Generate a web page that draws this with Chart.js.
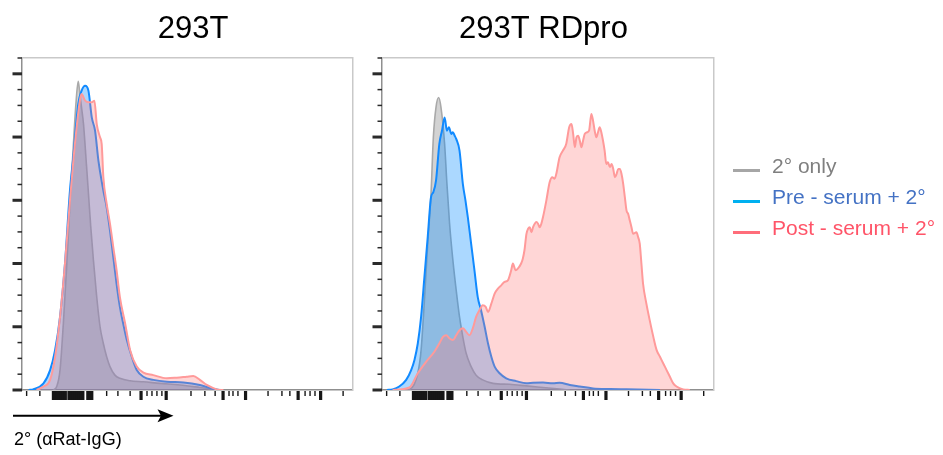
<!DOCTYPE html>
<html>
<head>
<meta charset="utf-8">
<title>Serum binding histograms</title>
<script src="https://cdn.jsdelivr.net/npm/chart.js@4.4.1/dist/chart.umd.min.js"></script>
<style>
  html, body { margin: 0; padding: 0; background: #ffffff; }
  #wrap { position: relative; width: 943px; height: 455px; overflow: hidden;
          font-family: "Liberation Sans", Arial, Helvetica, sans-serif; }
  .panel { position: absolute; top: 0; height: 455px; }
  .panel canvas { display: block; }
  #legend { position: absolute; left: 733px; top: 0; width: 210px; height: 455px; }
  .swatch { position: absolute; left: 0; width: 27px; height: 3px; }
  .label { position: absolute; left: 39px; font-size: 21px; line-height: 21px; white-space: nowrap; }
</style>
</head>
<body>
<div id="wrap">
  <div class="panel" style="left:0;width:386px"><canvas id="c1" width="386" height="455"></canvas></div>
  <div class="panel" style="left:360px;width:367px"><canvas id="c2" width="367" height="455"></canvas></div>
  <div id="legend"></div>
</div>
<script>
// ---------------- data ----------------
const panelTitles = ['293T', '293T RDpro'];
const seriesNames = ['2° only', 'Pre - serum + 2°', 'Post - serum + 2°'];
const axisLabel = '2° (αRat-IgG)';

// fluorescence channel (display scale 0-1000) and % of max
// 293T
const t293OnlyX = [95, 105, 115, 125, 135, 145, 155, 163, 170, 175, 180, 186, 194, 201, 208, 216, 226, 236, 246, 256, 266, 281, 296, 327, 367, 417, 478, 538, 579, 599];
const t293OnlyY = [0, 1.1, 6.3, 21.0, 38.9, 58.9, 76.8, 90.4, 97.6, 93.6, 89.4, 84.1, 72.6, 62.1, 51.5, 41.0, 29.4, 20.0, 14.7, 10.5, 7.4, 4.7, 3.7, 2.9, 2.6, 2.1, 1.6, 0.8, 0.2, 0];
const t293PreX = [20, 34, 65, 85, 100, 115, 130, 145, 155, 170, 180, 191, 201, 211, 221, 231, 246, 256, 266, 276, 286, 296, 306, 317, 332, 347, 367, 397, 438, 488, 538, 579, 599];
const t293PreY = [0, 0.2, 2.1, 6.3, 12.6, 23.1, 40.0, 63.1, 73.6, 90.4, 94.6, 96.2, 94.6, 86.2, 82.0, 72.6, 63.1, 57.8, 50.5, 42.1, 33.6, 26.3, 21.0, 15.8, 10.5, 6.3, 4.2, 3.2, 2.6, 2.4, 1.6, 0.3, 0];
const t293PostX = [44, 65, 85, 100, 115, 130, 145, 160, 175, 180, 191, 201, 211, 219, 226, 236, 241, 246, 256, 266, 276, 286, 296, 312, 327, 347, 367, 397, 438, 468, 498, 518, 538, 559, 589, 609];
const t293PostY = [0, 1.1, 3.2, 10.5, 23.1, 40.0, 59.9, 77.8, 91.5, 93.6, 91.5, 91.0, 91.0, 91.5, 84.1, 79.9, 77.8, 67.3, 58.9, 52.6, 45.2, 37.9, 29.4, 21.0, 12.6, 7.4, 5.5, 4.7, 3.7, 3.9, 4.2, 4.4, 3.2, 1.6, 0.2, 0];

// 293T RDpro
const rdOnlyX = [60, 83, 108, 118, 128, 138, 148, 155, 163, 171, 178, 189, 196, 204, 214, 224, 234, 244, 254, 269, 284, 304, 335, 385, 436, 486, 536, 567];
const rdOnlyY = [0, 0.2, 5.3, 12.6, 28.4, 46.3, 62.1, 79.9, 89.4, 92.5, 89.4, 77.8, 65.2, 52.6, 41.0, 31.5, 23.1, 16.8, 11.6, 7.4, 4.7, 3.2, 2.1, 1.8, 1.3, 0.8, 0.3, 0];
const rdPreX = [15, 32, 52, 73, 88, 98, 108, 118, 128, 138, 148, 155, 163, 173, 181, 189, 196, 202, 209, 214, 219, 224, 234, 244, 252, 259, 269, 279, 289, 299, 310, 320, 330, 340, 355, 375, 405, 436, 456, 486, 516, 536, 567, 597, 637, 688, 738, 839];
const rdPreY = [0, 0.2, 1.1, 3.2, 6.3, 9.5, 14.7, 23.1, 35.7, 48.4, 61.0, 62.6, 66.2, 77.8, 82.0, 86.2, 82.0, 83.1, 81.0, 81.5, 80.5, 79.4, 75.7, 65.2, 59.9, 54.7, 46.3, 37.9, 29.4, 25.2, 19.9, 14.7, 10.5, 7.4, 5.3, 3.7, 2.8, 2.1, 2.3, 2.4, 2.1, 2.3, 1.6, 1.1, 0.5, 0.3, 0.2, 0];
const rdPostX = [32, 83, 108, 133, 158, 173, 184, 194, 204, 214, 224, 234, 244, 254, 264, 274, 284, 294, 304, 313, 320, 330, 340, 350, 360, 370, 380, 390, 395, 403, 410, 420, 425, 430, 436, 441, 446, 451, 456, 461, 466, 471, 476, 481, 486, 496, 506, 514, 521, 526, 536, 546, 556, 565, 572, 577, 582, 587, 592, 597, 602, 607, 612, 619, 625, 632, 637, 642, 647, 652, 657, 662, 667, 672, 677, 682, 688, 693, 698, 703, 708, 713, 718, 723, 728, 733, 738, 743, 748, 753, 758, 768, 773, 778, 783, 788, 798, 808, 819, 829, 839, 849, 859, 869, 879, 889, 909, 929];
const rdPostY = [0, 0.8, 5.3, 8.9, 12.1, 14.7, 16.8, 17.3, 16.3, 15.8, 17.3, 18.9, 19.5, 18.4, 17.3, 19.5, 23.1, 25.2, 26.8, 26.3, 24.7, 27.3, 30.5, 32.1, 33.1, 34.2, 34.7, 37.9, 40.0, 37.9, 38.4, 40.0, 41.5, 44.2, 49.4, 51.0, 51.5, 49.9, 51.5, 52.6, 53.1, 52.6, 51.5, 52.6, 54.7, 59.9, 65.7, 67.3, 66.8, 68.3, 73.6, 75.7, 77.8, 83.1, 84.1, 81.0, 76.8, 79.9, 80.4, 78.9, 76.8, 78.9, 81.0, 81.5, 82.0, 87.3, 85.2, 82.0, 79.9, 81.5, 83.1, 81.5, 78.9, 75.7, 71.5, 72.0, 70.5, 71.5, 69.9, 67.3, 68.3, 69.9, 69.9, 68.3, 65.2, 61.0, 56.8, 55.7, 53.6, 51.5, 49.4, 49.9, 48.4, 46.3, 40.0, 33.6, 27.3, 22.1, 16.8, 12.6, 10.5, 8.4, 6.3, 4.2, 2.1, 1.1, 0.2, 0];

// axis tick values (display scale)
const xMinorTicks = [14, 54, 256, 290, 327, 378, 393, 408, 423, 511, 553, 584, 626, 638, 653, 744, 786, 810, 856, 871, 886, 971];
const xMajorTicks = [95, 101, 107, 113, 119, 125, 131, 142, 148, 154, 160, 166, 172, 178, 184, 199, 205, 211, 360, 436, 608, 676, 835, 903];
const xMax = 1000;
const yMax = 105;
const yTickStep = 5;
const yMajorStep = 20;

// ---------------- styles ----------------
const FONT = '"Liberation Sans", Arial, Helvetica, sans-serif';
const seriesStyle = [
  { line: '#a9a9a9', fill: 'rgba(128,128,128,0.35)', width: 1.6, order: 2, key: '#a6a6a6', text: '#7f7f7f' },
  { line: '#118aff', fill: 'rgba(0,136,255,0.33)',   width: 2.0, order: 1, key: '#00b0f0', text: '#4472c4' },
  { line: '#ff9a9a', fill: 'rgba(255,120,120,0.30)', width: 2.0, order: 0, key: '#ff6d7a', text: '#ff5468' }
];

function toPoints(xs, ys) {
  return xs.map((x, i) => ({ x: x, y: ys[i] }));
}

// tick marks, arrow and axis caption
const flowAxes = {
  id: 'flowAxes',
  afterDraw(chart, args, opts) {
    const { ctx, chartArea } = chart;
    const xs = chart.scales.x, ys = chart.scales.y;
    ctx.save();
    ctx.strokeStyle = '#161616';
    ctx.lineCap = 'butt';
    const b = chartArea.bottom;
    ctx.lineWidth = 1.4;
    xMinorTicks.forEach(v => {
      const px = xs.getPixelForValue(v);
      ctx.beginPath(); ctx.moveTo(px, b + 1); ctx.lineTo(px, b + 6); ctx.stroke();
    });
    ctx.lineWidth = 3.2;
    xMajorTicks.forEach(v => {
      const px = xs.getPixelForValue(v);
      ctx.beginPath(); ctx.moveTo(px, b + 1); ctx.lineTo(px, b + 10); ctx.stroke();
    });
    ctx.strokeStyle = '#2a2a2a';
    const l = chartArea.left;
    for (let v = 0; v <= yMax; v += yTickStep) {
      const py = ys.getPixelForValue(v);
      const major = v % yMajorStep === 0;
      ctx.lineWidth = major ? 3 : 1.5;
      ctx.beginPath(); ctx.moveTo(l - (major ? 9.5 : 4.5), py); ctx.lineTo(l, py); ctx.stroke();
    }
    if (opts.caption) {
      const ay = 415.7;
      ctx.strokeStyle = '#000';
      ctx.fillStyle = '#000';
      ctx.lineWidth = 2;
      ctx.beginPath(); ctx.moveTo(13, ay); ctx.lineTo(162, ay); ctx.stroke();
      ctx.beginPath();
      ctx.moveTo(173.5, ay);
      ctx.lineTo(157.5, ay - 6.5);
      ctx.lineTo(161, ay);
      ctx.lineTo(157.5, ay + 6.5);
      ctx.closePath();
      ctx.fill();
      ctx.font = '18px ' + FONT;
      ctx.textBaseline = 'alphabetic';
      ctx.textAlign = 'left';
      ctx.fillText(opts.caption, 14, 444.5);
    }
    ctx.restore();
  }
};

function panelConfig(title, xsList, ysList, rightAxisWidth, caption) {
  const datasets = xsList.map((xs, i) => ({
    label: seriesNames[i],
    data: toPoints(xs, ysList[i]),
    borderColor: seriesStyle[i].line,
    backgroundColor: seriesStyle[i].fill,
    borderWidth: seriesStyle[i].width,
    order: seriesStyle[i].order,
    fill: 'origin',
    pointRadius: 0,
    cubicInterpolationMode: 'monotone'
  }));
  const hiddenTicks = { display: false };
  const noGrid = { display: false, drawTicks: false };
  return {
    type: 'line',
    data: { datasets: datasets },
    options: {
      responsive: false,
      animation: false,
      events: [],
      layout: { padding: { left: 0, right: 0, top: 0, bottom: 65 } },
      plugins: {
        legend: { display: false },
        tooltip: { enabled: false },
        title: {
          display: true, text: title, color: '#000000',
          font: { family: FONT, size: 31, weight: 'normal', lineHeight: 1.2 },
          padding: { top: 10.4, bottom: 10.4 }
        },
        flowAxes: { caption: caption }
      },
      scales: {
        x: { type: 'linear', position: 'bottom', min: 0, max: xMax, ticks: hiddenTicks, grid: noGrid,
             border: { color: '#8f8f8f', width: 1.5 }, afterFit: s => { s.height = 0; } },
        y: { type: 'linear', position: 'left', min: 0, max: yMax, ticks: hiddenTicks, grid: noGrid,
             border: { color: '#8f8f8f', width: 1.5 }, afterFit: s => { s.width = 22; } },
        xTop: { type: 'linear', position: 'top', min: 0, max: xMax, ticks: hiddenTicks, grid: noGrid,
             border: { color: '#c9c9c9', width: 1.5 }, afterFit: s => { s.height = 0; } },
        yRight: { type: 'linear', position: 'right', min: 0, max: yMax, ticks: hiddenTicks, grid: noGrid,
             border: { color: '#c9c9c9', width: 1.5 }, afterFit: s => { s.width = rightAxisWidth; } }
      }
    },
    plugins: [flowAxes]
  };
}

new Chart(document.getElementById('c1'), panelConfig(
  panelTitles[0],
  [t293OnlyX, t293PreX, t293PostX],
  [t293OnlyY, t293PreY, t293PostY],
  33.3, axisLabel));

new Chart(document.getElementById('c2'), panelConfig(
  panelTitles[1],
  [rdOnlyX, rdPreX, rdPostX],
  [rdOnlyY, rdPreY, rdPostY],
  13.7, null));

// legend
const legendBaselines = [172.5, 203.5, 234.5];
const legend = document.getElementById('legend');
seriesNames.forEach((name, i) => {
  const sw = document.createElement('div');
  sw.className = 'swatch';
  sw.style.background = seriesStyle[i].key;
  sw.style.top = (legendBaselines[i] - 3.5) + 'px';
  legend.appendChild(sw);
  const tx = document.createElement('div');
  tx.className = 'label';
  tx.style.color = seriesStyle[i].text;
  tx.style.top = (legendBaselines[i] - 17.8) + 'px';
  tx.textContent = name;
  legend.appendChild(tx);
});
</script>
</body>
</html>
